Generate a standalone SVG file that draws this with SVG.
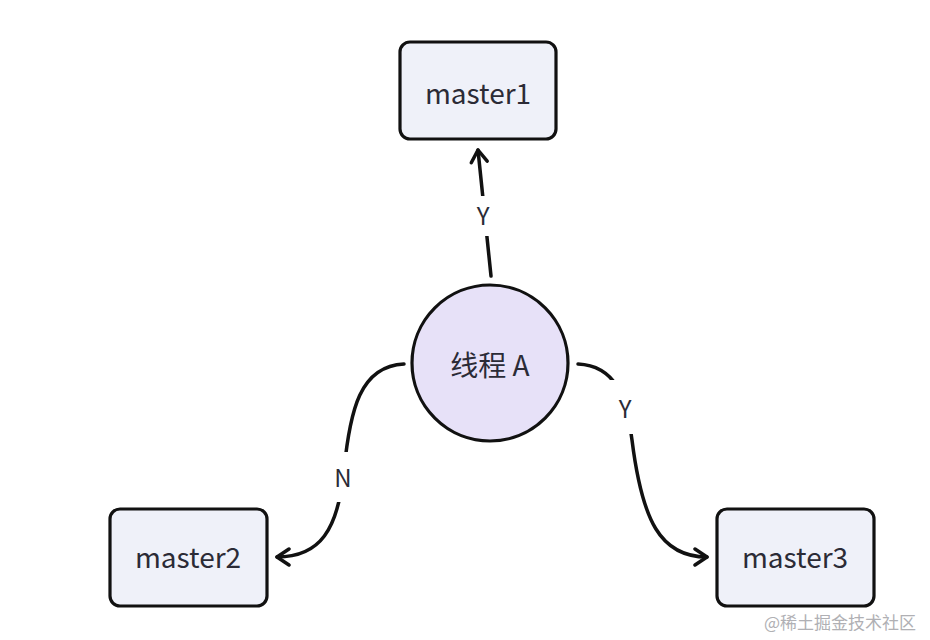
<svg xmlns="http://www.w3.org/2000/svg" width="930" height="640" viewBox="0 0 930 640">
<style>
.box{fill:#eff1f9;stroke:#111;stroke-width:3.2}
.circ{fill:#e7e1f8;stroke:#111;stroke-width:3.2}
.t{font-family:"Noto Sans CJK SC","Noto Sans",sans-serif;font-size:28px;fill:#2b2b36;text-anchor:middle;dominant-baseline:central}
.lbl{font-family:"Noto Sans CJK SC","Noto Sans",sans-serif;font-size:24px;fill:#2b2b36;text-anchor:middle;dominant-baseline:central}
.edge{fill:none;stroke:#111;stroke-width:3.5;stroke-linecap:round}
.wm{font-family:"Noto Sans CJK SC",sans-serif;font-size:17px;fill:#b0b0b4}
</style>
<defs>
<marker id="arr" viewBox="0 0 20 20" refX="16" refY="10" markerWidth="20" markerHeight="20" markerUnits="userSpaceOnUse" orient="auto">
<path d="M4 2 L16 10 L4 18" fill="none" stroke="#111" stroke-width="3.5" stroke-linecap="round" stroke-linejoin="round"/>
</marker>
</defs>
<rect width="930" height="640" fill="#fff"/>
<g id="connectors">
<path class="edge" d="M491 276 L478 150" marker-end="url(#arr)"/>
<path class="edge" d="M404 364 C360 366 350 410 344 470 C338 530 320 557 277 557" marker-end="url(#arr)"/>
<path class="edge" d="M578 364 C615 366 626 395 632 440 C642 520 660 557 707 557" marker-end="url(#arr)"/>
<rect x="468" y="196" width="30" height="40" fill="#fff"/>
<text class="lbl" x="483" y="214">Y</text>
<rect x="328" y="452" width="30" height="50" fill="#fff"/>
<text class="lbl" x="343" y="476">N</text>
<rect x="610" y="380" width="30" height="54" fill="#fff"/>
<text class="lbl" x="625" y="407">Y</text>
</g>
<g id="master1">
<rect class="box" x="400" y="42" width="156" height="97" rx="10"/>
<text class="t" x="478" y="92">master1</text>
</g>
<g id="threadA">
<circle class="circ" cx="490" cy="363" r="78"/>
<text class="t" x="490" y="364">线程 A</text>
</g>
<g id="master2">
<rect class="box" x="110" y="509" width="157" height="97" rx="10"/>
<text class="t" x="188" y="556">master2</text>
</g>
<g id="master3">
<rect class="box" x="717" y="509" width="157" height="97" rx="10"/>
<text class="t" x="795" y="556">master3</text>
</g>
<text class="wm" x="764" y="629">@稀土掘金技术社区</text>
</svg>
